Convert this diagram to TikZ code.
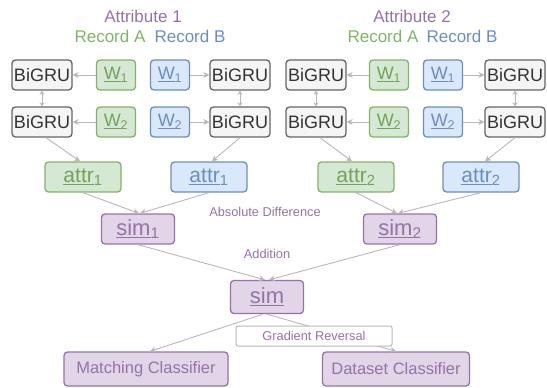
\documentclass[tikz,border=0pt]{standalone}
\usepackage{fontspec}
\setmainfont{Liberation Sans}
\usetikzlibrary{arrows.meta}
\definecolor{gfill}{HTML}{D5E8D4}\definecolor{gline}{HTML}{82B366}
\definecolor{bfill}{HTML}{DAE8FC}\definecolor{bline}{HTML}{6C8EBF}
\definecolor{pfill}{HTML}{E1D5E7}\definecolor{pline}{HTML}{9673A6}
\definecolor{kfill}{HTML}{F5F5F5}\definecolor{kline}{HTML}{666666}
\definecolor{arr}{HTML}{B8B8B8}
\newcommand{\ul}[2]{\underline{#1}\textsubscript{#2}}
\tikzset{
  box/.style={rounded corners=3.5pt, line width=1.3pt, inner sep=0pt, anchor=center},
  gru/.style={box, draw=kline, fill=kfill, text=black!80, minimum width=60pt, minimum height=30pt, font=\fontsize{18}{20}\selectfont},
  gw/.style={box, draw=gline, fill=gfill, text=gline!90!black, minimum width=39pt, minimum height=30pt, font=\fontsize{18}{20}\selectfont},
  bw/.style={box, draw=bline, fill=bfill, text=bline, minimum width=39pt, minimum height=30pt, font=\fontsize{18}{20}\selectfont},
  gattr/.style={box, draw=gline, fill=gfill, text=gline!90!black, minimum width=76pt, minimum height=30pt, font=\fontsize{21}{22}\selectfont},
  battr/.style={box, draw=bline, fill=bfill, text=bline, minimum width=76pt, minimum height=30pt, font=\fontsize{21}{22}\selectfont},
  psim/.style={box, draw=pline, fill=pfill, text=pline, minimum width=73pt, minimum height=30pt, font=\fontsize{22}{24}\selectfont},
  pcls/.style={box, draw=pline, fill=pfill, text=pline, minimum height=34pt, font=\fontsize{16.5}{18}\selectfont},
  lbl/.style={inner sep=0pt, font=\fontsize{12.8}{14}\selectfont, text=pline},
  title/.style={inner sep=0pt, font=\fontsize{17}{19}\selectfont},
  con/.style={draw=arr, line width=0.9pt, -{Stealth[length=6pt,width=6pt]}},
  dbl/.style={draw=arr, line width=0.9pt, {Stealth[length=4pt,width=5pt]}-{Stealth[length=4pt,width=5pt]}},
}
\begin{document}
\begin{tikzpicture}[x=1pt,y=-1pt]
\useasboundingbox (0,0) rectangle (547,388);
% titles
\node[title, text=pline] (t1) at (143,16) {Attribute 1};
\node[title, text=gline] (ra1) at (110,36) {Record A};
\node[title, text=bline] (rb1) at (190,36) {Record B};
\node[title, text=pline] (t2) at (412,16) {Attribute 2};
\node[title, text=gline] (ra2) at (383,36) {Record A};
\node[title, text=bline] (rb2) at (462,36) {Record B};
% attribute 1
\node[gru] (g1a) at (42,75) {BiGRU};
\node[gru] (g2a) at (42,122) {BiGRU};
\node[gw] (w1a) at (116,75) {\ul{W}{1}};
\node[gw] (w2a) at (116,122) {\ul{W}{2}};
\node[bw] (w1b) at (170,75) {\ul{W}{1}};
\node[bw] (w2b) at (170,122) {\ul{W}{2}};
\node[gru] (g1b) at (240,75) {BiGRU};
\node[gru] (g2b) at (240,122) {BiGRU};
\node[gattr] (a1a) at (83,177) {\ul{attr}{1}};
\node[battr] (a1b) at (209,177) {\ul{attr}{1}};
% attribute 2
\node[gru] (h1a) at (316,75) {BiGRU};
\node[gru] (h2a) at (316,122) {BiGRU};
\node[gw] (v1a) at (389,75) {\ul{W}{1}};
\node[gw] (v2a) at (389,122) {\ul{W}{2}};
\node[bw] (v1b) at (443,75) {\ul{W}{1}};
\node[bw] (v2b) at (443,122) {\ul{W}{2}};
\node[gru] (h1b) at (515,75) {BiGRU};
\node[gru] (h2b) at (515,122) {BiGRU};
\node[gattr] (a2a) at (356,177) {\ul{attr}{2}};
\node[battr] (a2b) at (481,177) {\ul{attr}{2}};
% sims
\node[psim] (s1) at (138,229) {\ul{sim}{1}};
\node[psim] (s2) at (400,229) {\ul{sim}{2}};
\node[psim, minimum height=33pt] (s) at (267,297) {\underline{sim}};
\node[lbl] (absd) at (265,212) {Absolute Difference};
\node[lbl] (add) at (267,254) {Addition};
% classifiers
\node[pcls, minimum width=164pt] (mc) at (146,369) {Matching Classifier};
\node[pcls, minimum width=147pt] (dc) at (396,369) {Dataset Classifier};
% connectors
\foreach \w/\g in {w1a/g1a,w2a/g2a,w1b/g1b,w2b/g2b,v1a/h1a,v2a/h2a,v1b/h1b,v2b/h2b}
  \draw[con] (\w) -- (\g);
\foreach \u/\d in {g1a/g2a,g1b/g2b,h1a/h2a,h1b/h2b}
  \draw[dbl] (\u) -- (\d);
\draw[con] ([xshift=4pt]g2a.south) -- ([xshift=-3pt]a1a.north);
\draw[con] (g2b.south) -- ([xshift=3pt]a1b.north);
\draw[con] ([xshift=4pt]h2a.south) -- ([xshift=-4pt]a2a.north);
\draw[con] (h2b.south) -- ([xshift=4pt]a2b.north);
\draw[con] (a1a.south) -- ([xshift=1pt]s1.north);
\draw[con] (a1b.south) -- ([xshift=2pt]s1.north);
\draw[con] (a2a.south) -- ([xshift=-3pt]s2.north);
\draw[con] (a2b.south) -- ([xshift=-2pt]s2.north);
\draw[con] (s1.south) -- ([xshift=-2pt]s.north);
\draw[con] (s2.south) -- ([xshift=2pt]s.north);
\draw[con] ([xshift=-4pt]s.south) -- ([xshift=4pt]mc.north);
\draw[con] (s.south) -- (dc.north);
\node[lbl, draw=arr, fill=white, line width=1pt, rounded corners=2pt, minimum width=156pt, minimum height=20pt] (gr) at (314,336) {Gradient Reversal};
\end{tikzpicture}
\end{document}
